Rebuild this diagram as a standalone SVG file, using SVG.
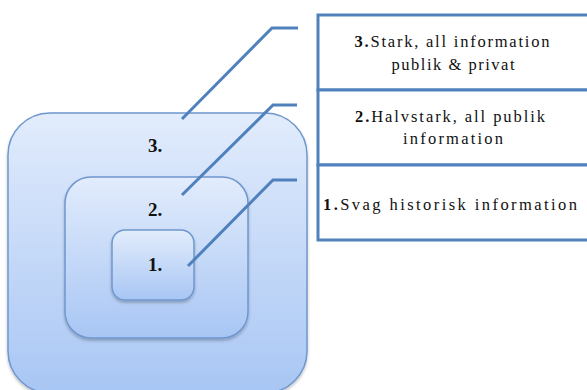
<svg xmlns="http://www.w3.org/2000/svg" width="587" height="390" viewBox="0 0 587 390">
<style>
.box{stroke:#6f97cd;stroke-width:1.5}
.lvl{font-family:"Liberation Serif","Times New Roman",serif;font-size:19px;font-weight:bold;fill:#111}
.conn{fill:none;stroke:#4f81bd;stroke-width:3}
.tbl{fill:#fff;stroke:#4f81bd;stroke-width:3}
.t{font-family:"Liberation Serif","Times New Roman",serif;font-size:16.5px;fill:#111;text-anchor:middle}
.b{font-weight:bold}
</style>
<defs>
<linearGradient id="g" x1="0" y1="0" x2="0" y2="1">
<stop offset="0" stop-color="#e2ecfc"/>
<stop offset="1" stop-color="#a8c6f4"/>
</linearGradient>
<filter id="sh" x="-10%" y="-10%" width="120%" height="130%">
<feDropShadow dx="0" dy="2" stdDeviation="1.5" flood-color="#000" flood-opacity="0.25"/>
</filter>
</defs>
<g id="level3">
<rect class="box" x="8" y="113" width="299" height="280" rx="42" fill="url(#g)" filter="url(#sh)"/>
<text class="lvl" x="148" y="152">3.</text>
</g>
<g id="level2">
<rect class="box" x="65" y="177" width="183" height="161" rx="26" fill="url(#g)" filter="url(#sh)"/>
<text class="lvl" x="148" y="216">2.</text>
</g>
<g id="level1">
<rect class="box" x="112" y="230" width="82" height="70" rx="13" fill="url(#g)" filter="url(#sh)"/>
<text class="lvl" x="148" y="271">1.</text>
</g>
<g id="connectors">
<polyline class="conn" points="182,119 272,28 298,28"/>
<polyline class="conn" points="182,195 273,105 297,105"/>
<polyline class="conn" points="188,266 273,180 297,180"/>
</g>
<g id="table">
<rect class="tbl" x="318" y="15" width="280" height="75"/>
<rect class="tbl" x="318" y="90" width="280" height="75"/>
<rect class="tbl" x="318" y="165" width="280" height="75"/>
</g>
<g id="row3">
<text class="t" x="452" y="47" textLength="195" lengthAdjust="spacing"><tspan class="b">3.</tspan>Stark, all information</text>
<text class="t" x="453" y="70" textLength="123" lengthAdjust="spacing">publik &amp; privat</text>
</g>
<g id="row2">
<text class="t" x="450" y="122" textLength="190" lengthAdjust="spacing"><tspan class="b">2.</tspan>Halvstark, all publik</text>
<text class="t" x="453" y="144" textLength="100" lengthAdjust="spacing">information</text>
</g>
<g id="row1">
<text class="t" x="450" y="210" textLength="254" lengthAdjust="spacing"><tspan class="b">1.</tspan>Svag historisk information</text>
</g>
</svg>
